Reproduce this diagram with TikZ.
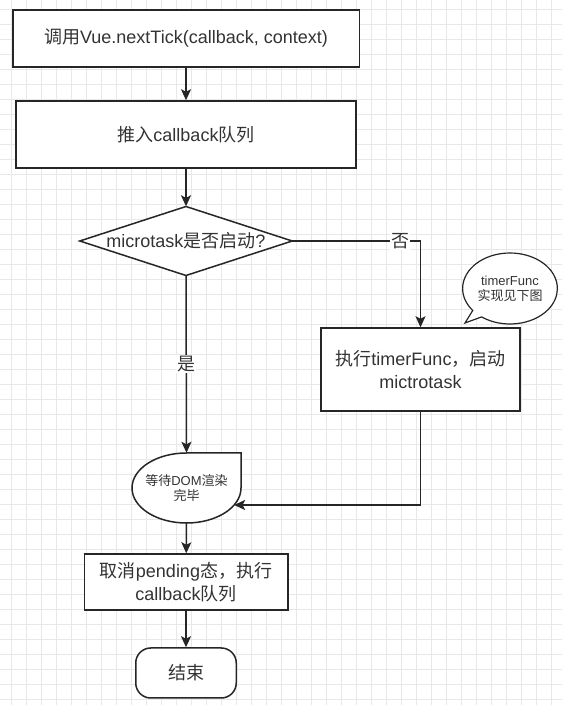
\documentclass[tikz,border=0pt]{standalone}
\usepackage{fontspec}
\setmainfont{Liberation Sans}
\newfontfamily\cjk{Noto Sans CJK SC}
\usetikzlibrary{arrows.meta}
\usetikzlibrary{shapes.callouts}
\definecolor{inkC}{HTML}{333333}
\definecolor{lineC}{HTML}{262626}
\definecolor{gridC}{HTML}{E8E8E8}

\begin{document}
\begin{tikzpicture}[x = 1pt, y = 1pt, font = \fontsize{18}{23}\selectfont, text = inkC]
	\tikzstyle{lineStyle} = [draw = lineC, line width = 1.5pt]
	\tikzstyle{boxStyle} = [lineStyle, shape = rectangle, fill = white, align = center, inner sep = 0pt]
	\tikzstyle{smallStyle} = [font = \fontsize{13}{15}\selectfont, align = center]
	\tikzstyle{flowStyle} = [lineStyle, -{Stealth[length = 11pt, width = 10pt, inset = 2.5pt]}]
	\tikzstyle{labelStyle} = [fill = white, inner sep = 1pt]
	% background grid
	\useasboundingbox (0,0) rectangle (562,705);
	\fill[white] (0,0) rectangle (562,705);
	\foreach \gx in {0,...,36} \draw[gridC, line width = 0.7pt] ({11.7+15*\gx},0) -- ++(0,705);
	\foreach \gy in {0,...,46} \draw[gridC, line width = 0.7pt] (0,{5.5+15*\gy}) -- ++(562,0);
	% shapes drawn by hand
	\draw[lineStyle, fill = white] (186,498.5) -- (292.2,464) -- (186,429.5) -- (79.8,464) -- cycle;
	\draw[lineStyle, fill = white] (241,252) -- (186.5,252) arc[start angle = 90, end angle = 360, x radius = 54.5, y radius = 35] -- cycle;
	% nodes
	\node[boxStyle, minimum width = 346.5, minimum height = 57] (call) at (186, 666.5) {{\cjk 调用}Vue.nextTick(callback, context)};
	\node[boxStyle, minimum width = 340, minimum height = 67] (push) at (186, 570.5) {{\cjk 推入}callback{\cjk 队列}};
	\node[minimum width = 212.4, minimum height = 69, inner sep = 0pt] (check) at (186, 464) {microtask{\cjk 是否启动}?};
	\node[boxStyle, minimum width = 199, minimum height = 83] (timer) at (420.5, 335.5) {{\cjk 执行}timerFunc{\cjk ，启动}\\mictrotask};
	\node[lineStyle, line width = 1.2pt, ellipse callout, fill = white, smallStyle, minimum width = 93, minimum height = 71, inner sep = 1pt, callout absolute pointer = {(465,382)}] (note) at (510, 416.5) {timerFunc\\{\cjk 实现见下图}};
	\node[smallStyle, minimum width = 109, minimum height = 70, inner sep = 0pt] (wait) at (186.5, 217) {{\cjk 等待}DOM{\cjk 渲染}\\{\cjk 完毕}};
	\node[boxStyle, minimum width = 203.5, minimum height = 56] (cancel) at (186, 123) {{\cjk 取消}pending{\cjk 态，执行}\\callback{\cjk 队列}};
	\node[boxStyle, rounded corners = 15pt, minimum width = 100.5, minimum height = 50] (finish) at (186, 32) {{\cjk 结束}};
	\coordinate (waitIn) at (234.1, 200);
	% connectors
	\draw[flowStyle] (call) -- (push);
	\draw[flowStyle] (push) -- (check.north);
	\draw[flowStyle] (check.east) -| node[labelStyle, pos = 0.42] {\cjk 否} (timer.north);
	\draw[flowStyle] (check.south) -- node[labelStyle] {\cjk 是} (wait.north);
	\draw[flowStyle] (timer.south) |- (waitIn);
	\draw[flowStyle] (wait.south) -- (cancel);
	\draw[flowStyle] (cancel) -- (finish);
\end{tikzpicture}
\end{document}
